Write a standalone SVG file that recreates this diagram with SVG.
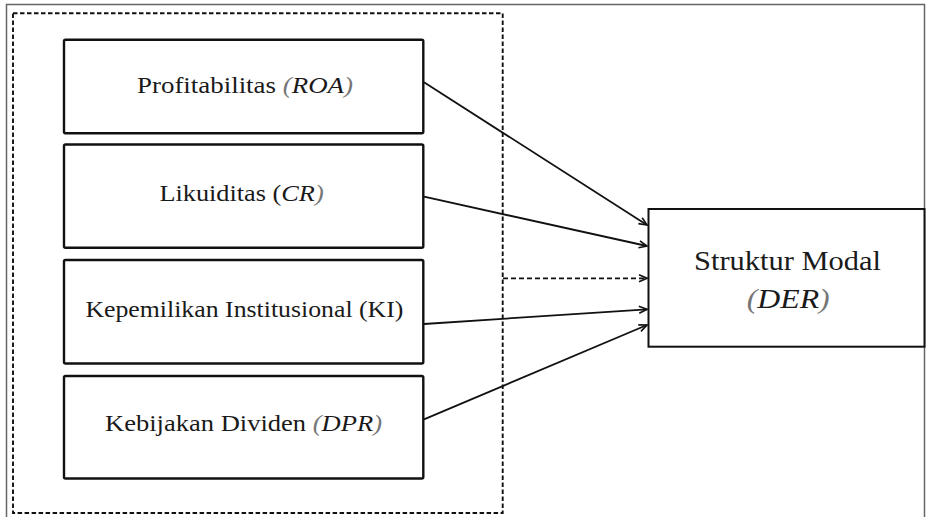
<svg xmlns="http://www.w3.org/2000/svg" width="926" height="517" viewBox="0 0 926 517">
<style>
.frame{fill:none;stroke:#666;stroke-width:1.5}
.group{fill:none;stroke:#111;stroke-width:1.9;stroke-dasharray:4.5 2.5}
.box{fill:#fff;stroke:#111;stroke-width:2.4}
.dep{fill:#fff;stroke:#111;stroke-width:2}
.t{font-family:"Liberation Serif","Times New Roman",serif;font-size:23px;fill:#1a1a1a}
.tr{font-family:"Liberation Serif","Times New Roman",serif;font-size:27px;fill:#1a1a1a}
.i{font-style:italic}
.p{fill:#777}
.edge{fill:none;stroke:#111;stroke-width:1.8}
.dash{stroke-dasharray:5 3}
</style>
<defs>
<marker id="ah" markerWidth="10" markerHeight="10" refX="9" refY="5" orient="auto" markerUnits="userSpaceOnUse">
<path d="M1,1.5 L9,5 L1,8.5" fill="none" stroke="#111" stroke-width="1.6"/>
</marker>
</defs>
<rect class="frame" x="6.5" y="4.5" width="918" height="520"/>
<rect class="group" x="13" y="13.3" width="489.7" height="499.7"/>
<g id="n-roa">
<rect class="box" x="64" y="39.8" width="359.3" height="93.5" rx="1.5"/>
<text class="t" x="137" y="93.3" textLength="216" lengthAdjust="spacingAndGlyphs">Profitabilitas <tspan class="i"><tspan class="p">(</tspan>ROA<tspan class="p">)</tspan></tspan></text>
</g>
<g id="n-cr">
<rect class="box" x="64" y="144.5" width="359.3" height="103.2" rx="1.5"/>
<text class="t" x="159.4" y="201" textLength="164.3" lengthAdjust="spacingAndGlyphs">Likuiditas (<tspan class="i">CR<tspan class="p">)</tspan></tspan></text>
</g>
<g id="n-ki">
<rect class="box" x="64" y="260" width="359.3" height="103.5" rx="1.5"/>
<text class="t" x="85.4" y="316.7" textLength="318" lengthAdjust="spacingAndGlyphs">Kepemilikan Institusional (KI)</text>
</g>
<g id="n-dpr">
<rect class="box" x="64" y="376" width="359.3" height="102.5" rx="1.5"/>
<text class="t" x="105" y="431" textLength="277" lengthAdjust="spacingAndGlyphs">Kebijakan Dividen <tspan class="i"><tspan class="p">(</tspan>DPR<tspan class="p">)</tspan></tspan></text>
</g>
<g id="n-der">
<rect class="dep" x="648.5" y="209" width="276" height="137.7"/>
<text class="tr" x="694" y="270" textLength="187" lengthAdjust="spacingAndGlyphs">Struktur Modal</text>
<text class="tr i" x="746.7" y="308" textLength="83" lengthAdjust="spacingAndGlyphs"><tspan class="p">(</tspan>DER<tspan class="p">)</tspan></text>
</g>
<g id="connectors">
<line class="edge" x1="424" y1="82.3" x2="647" y2="225" marker-end="url(#ah)"/>
<line class="edge" x1="424" y1="196.7" x2="647" y2="246" marker-end="url(#ah)"/>
<line class="edge dash" x1="503" y1="278.3" x2="647" y2="278.3" marker-end="url(#ah)"/>
<line class="edge" x1="424" y1="324" x2="647" y2="309.3" marker-end="url(#ah)"/>
<line class="edge" x1="424" y1="419.3" x2="647" y2="325" marker-end="url(#ah)"/>
</g>
</svg>
